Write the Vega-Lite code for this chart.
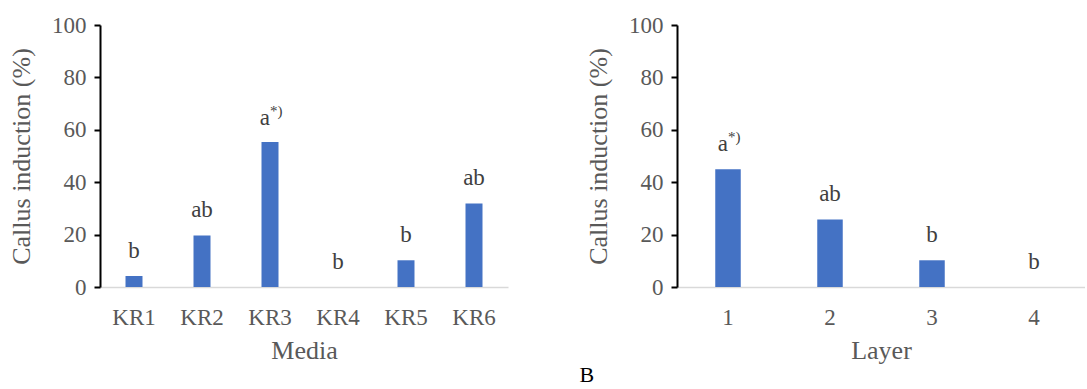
{
  "$schema": "https://vega.github.io/schema/vega-lite/v6.json",
  "padding": {"left": 8, "top": 14, "right": 0, "bottom": 0},
  "background": "white",
  "spacing": 77,
  "datasets": {
    "media": [
      {"media": "KR1", "value": 4.2, "label": "b", "sup": ""},
      {"media": "KR2", "value": 19.7, "label": "ab", "sup": ""},
      {"media": "KR3", "value": 55.3, "label": "a", "sup": "*)"},
      {"media": "KR4", "value": 0, "label": "b", "sup": ""},
      {"media": "KR5", "value": 10.2, "label": "b", "sup": ""},
      {"media": "KR6", "value": 31.9, "label": "ab", "sup": ""}
    ],
    "layer": [
      {"layer": "1", "value": 44.9, "label": "a", "sup": "*)"},
      {"layer": "2", "value": 25.8, "label": "ab", "sup": ""},
      {"layer": "3", "value": 10.2, "label": "b", "sup": ""},
      {"layer": "4", "value": 0, "label": "b", "sup": ""}
    ]
  },
  "title": {
    "text": "B",
    "orient": "bottom",
    "anchor": "middle",
    "font": "Liberation Serif",
    "fontSize": 22,
    "fontWeight": "normal",
    "color": "#000000",
    "dx": 40,
    "offset": 2
  },
  "hconcat": [
    {
      "width": 408,
      "height": 262,
      "data": {"name": "media"},
      "encoding": {
        "x": {"field": "media", "type": "nominal", "title": "Media", "sort": null,
              "scale": {"paddingInner": 0.75, "paddingOuter": 0.375},
              "axis": {"labelAngle": 0, "ticks": false, "domainColor": "#d9d9d9", "domainWidth": 1.5, "labelPadding": 19, "titlePadding": 8}},
        "y": {"field": "value", "type": "quantitative", "title": "Callus induction (%)",
              "scale": {"domain": [0, 100], "nice": false},
              "axis": {"values": [0, 20, 40, 60, 80, 100], "tickSize": 6, "labelPadding": 8, "titlePadding": 17}}
      },
      "layer": [
        {"mark": {"type": "bar", "color": "#4472C4"}},
        {"transform": [{"filter": "datum.sup == ''"}],
         "mark": {"type": "text", "font": "Liberation Serif", "fontSize": 23, "color": "#404040", "baseline": "alphabetic", "align": "center", "dy": -18},
         "encoding": {"text": {"field": "label"}}},
        {"transform": [{"filter": "datum.sup != ''"}],
         "mark": {"type": "text", "font": "Liberation Serif", "fontSize": 23, "color": "#404040", "baseline": "alphabetic", "align": "right", "dx": 0, "dy": -17},
         "encoding": {"text": {"field": "label"}}},
        {"transform": [{"filter": "datum.sup != ''"}],
         "mark": {"type": "text", "font": "Liberation Serif", "fontSize": 15, "color": "#404040", "baseline": "alphabetic", "align": "left", "dx": 0, "dy": -26},
         "encoding": {"text": {"field": "sup"}}}
      ]
    },
    {
      "width": 408,
      "height": 262,
      "data": {"name": "layer"},
      "encoding": {
        "x": {"field": "layer", "type": "nominal", "title": "Layer", "sort": null,
              "scale": {"paddingInner": 0.75, "paddingOuter": 0.375},
              "axis": {"labelAngle": 0, "ticks": false, "domainColor": "#d9d9d9", "domainWidth": 1.5, "labelPadding": 19, "titlePadding": 8}},
        "y": {"field": "value", "type": "quantitative", "title": "Callus induction (%)",
              "scale": {"domain": [0, 100], "nice": false},
              "axis": {"values": [0, 20, 40, 60, 80, 100], "tickSize": 6, "labelPadding": 8, "titlePadding": 17}}
      },
      "layer": [
        {"mark": {"type": "bar", "color": "#4472C4"}},
        {"transform": [{"filter": "datum.sup == ''"}],
         "mark": {"type": "text", "font": "Liberation Serif", "fontSize": 23, "color": "#404040", "baseline": "alphabetic", "align": "center", "dy": -18},
         "encoding": {"text": {"field": "label"}}},
        {"transform": [{"filter": "datum.sup != ''"}],
         "mark": {"type": "text", "font": "Liberation Serif", "fontSize": 23, "color": "#404040", "baseline": "alphabetic", "align": "right", "dx": 0, "dy": -18},
         "encoding": {"text": {"field": "label"}}},
        {"transform": [{"filter": "datum.sup != ''"}],
         "mark": {"type": "text", "font": "Liberation Serif", "fontSize": 15, "color": "#404040", "baseline": "alphabetic", "align": "left", "dx": 0, "dy": -27},
         "encoding": {"text": {"field": "sup"}}}
      ]
    }
  ],
  "config": {
    "view": {"stroke": null},
    "text": {"font": "Liberation Serif"},
    "axis": {
      "grid": false,
      "labelFont": "Liberation Serif",
      "labelFontSize": 23,
      "labelColor": "#595959",
      "titleFont": "Liberation Serif",
      "titleFontSize": 26,
      "titleFontWeight": "normal",
      "titleColor": "#595959",
      "domainColor": "#000000",
      "domainWidth": 2,
      "tickColor": "#000000",
      "tickWidth": 2
    }
  }
}
